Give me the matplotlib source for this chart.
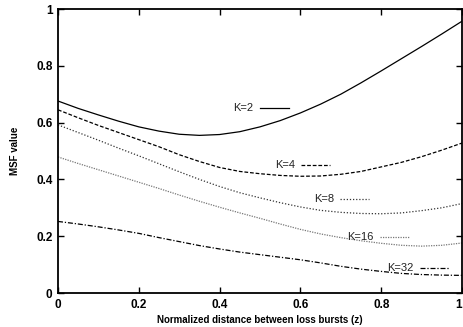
import numpy as np
import matplotlib
matplotlib.use("Agg")
from matplotlib import pyplot as plt

# ── data ──────────────────────────────────────────────────────────────────────
z = [0.00, 0.05, 0.10, 0.15, 0.20, 0.25, 0.30, 0.35, 0.40, 0.45, 0.50,
     0.55, 0.60, 0.65, 0.70, 0.75, 0.80, 0.85, 0.90, 0.95, 1.00]

msf_k2 = [0.676, 0.650, 0.627, 0.605, 0.585, 0.570, 0.559, 0.555, 0.558, 0.568, 0.585,
          0.607, 0.634, 0.665, 0.700, 0.740, 0.782, 0.825, 0.868, 0.912, 0.957]
msf_k4 = [0.645, 0.617, 0.590, 0.565, 0.540, 0.515, 0.487, 0.463, 0.442, 0.428, 0.420,
          0.414, 0.411, 0.412, 0.418, 0.428, 0.444, 0.460, 0.480, 0.503, 0.528]
msf_k8 = [0.592, 0.565, 0.538, 0.510, 0.483, 0.455, 0.427, 0.400, 0.375, 0.353, 0.335,
          0.318, 0.303, 0.291, 0.284, 0.280, 0.279, 0.282, 0.290, 0.300, 0.315]
msf_k16 = [0.479, 0.456, 0.434, 0.412, 0.390, 0.368, 0.345, 0.323, 0.302, 0.282, 0.263,
           0.243, 0.224, 0.208, 0.195, 0.184, 0.175, 0.168, 0.165, 0.168, 0.176]
msf_k32 = [0.252, 0.243, 0.233, 0.222, 0.210, 0.195, 0.181, 0.167, 0.155, 0.144, 0.135,
           0.126, 0.117, 0.106, 0.094, 0.084, 0.076, 0.069, 0.065, 0.063, 0.062]

labels = ["K=2", "K=4", "K=8", "K=16", "K=32"]
ticks = [0, 0.2, 0.4, 0.6, 0.8, 1]
tick_labels = ["0", "0.2", "0.4", "0.6", "0.8", "1"]

# ── styles ────────────────────────────────────────────────────────────────────
styles = [
    dict(color="black", linestyle="-", linewidth=0.9),
    dict(color="black", linestyle=(0, (3, 1.5)), linewidth=0.9),
    dict(color="#333333", linestyle=(0, (1, 1.5)), linewidth=0.9),
    dict(color="#777777", linestyle=(0, (1, 1)), linewidth=0.9),
    dict(color="black", linestyle=(0, (4, 1.5, 1, 1.5)), linewidth=0.9),
]
# key positions in pixels: (text right edge, sample start, sample end, y)
key_px = [
    (253, 260, 289, 108),
    (295, 301, 330, 165),
    (334, 340, 369, 199),
    (374, 380, 410, 237),
    (414, 420, 450, 268),
]

W, H = 463, 327
AX_L, AX_R, AX_T, AX_B = 58, 462, 9, 293

plt.rcParams["font.family"] = ["Liberation Sans", "DejaVu Sans"]

fig = plt.figure(figsize=(W / 100, H / 100), dpi=100)
ax = fig.add_axes([AX_L / W, 1 - AX_B / H, (AX_R - AX_L) / W, (AX_B - AX_T) / H])

series = [msf_k2, msf_k4, msf_k8, msf_k16, msf_k32]
for vals, st, lab, (tx, x0, x1, y) in zip(series, styles, labels, key_px):
    ax.plot(z, vals, **st)
    fx = lambda p: (p - AX_L) / (AX_R - AX_L)
    fy = 1 - (y - AX_T) / (AX_B - AX_T)
    ax.plot([fx(x0), fx(x1)], [fy, fy], transform=ax.transAxes, **st)
    ax.text(fx(tx), fy, lab, transform=ax.transAxes, ha="right", va="center",
            fontsize=8, color="#222222")

ax.set_xlim(0, 1)
ax.set_ylim(0, 1)
ax.set_xticks(ticks)
ax.set_xticklabels(tick_labels)
ax.set_yticks(ticks)
ax.set_yticklabels(tick_labels)
ax.tick_params(direction="in", length=4, width=1, top=True, right=True,
               labelsize=8.5, pad=4)
for lbl in ax.get_xticklabels() + ax.get_yticklabels():
    lbl.set_fontweight("bold")
ax.get_xticklabels()[-1].set_horizontalalignment("right")
for sp in ax.spines.values():
    sp.set_linewidth(1.3)

ax.set_xlabel("Normalized distance between loss bursts (z)", fontsize=7,
              fontweight="bold", va="center")
ax.xaxis.set_label_coords(0.5, -(320 - AX_B) / (AX_B - AX_T))
ax.set_ylabel("MSF value", fontsize=7, fontweight="bold", va="center")
ax.yaxis.set_label_coords(-(AX_L - 15) / (AX_R - AX_L), 0.5)

fig.savefig("out.png", dpi=100)
